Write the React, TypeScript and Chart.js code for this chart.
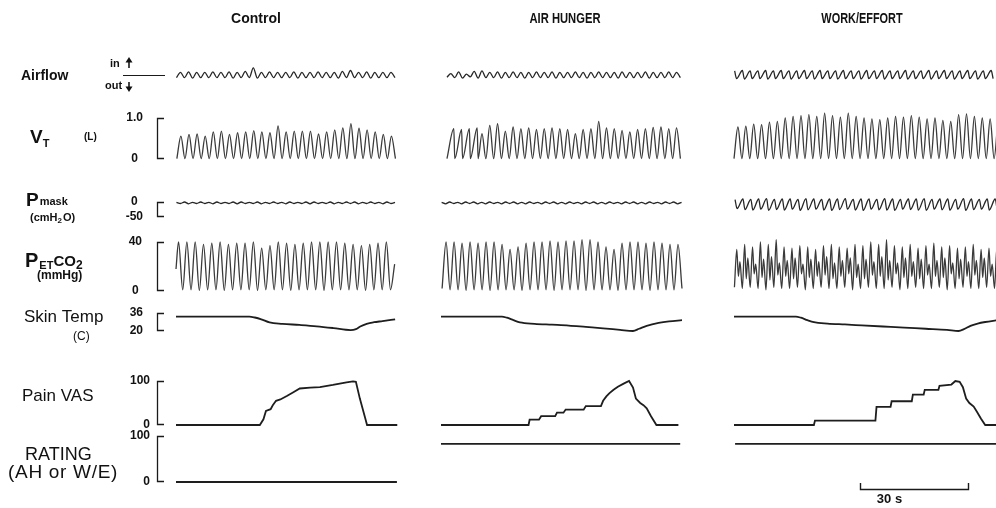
import { useEffect, useRef } from 'react';
import { Chart, registerables } from 'chart.js';

Chart.register(...registerables);

const FONT = '"Liberation Sans", Arial, Helvetica, sans-serif';

// ---------------- text / axis data ----------------
const columnTitles = ['Control', 'AIR HUNGER', 'WORK/EFFORT'];
const columnSpanSec = [61.7, 66.9, 72.8];
const scaleBarStartSec = 35.0; // placed in WORK/EFFORT column
const scaleBarSec = 30;
const scaleBarLabel = '30 s';

const vtTickLabels = ['0', '1.0'];
const pmaskTickLabels = ['-50', '0'];
const petco2TickLabels = ['0', '40'];
const skinTickLabels = ['20', '36'];
const painTickLabels = ['0', '100'];
const ratingTickLabels = ['0', '100'];

// ---------------- breathing traces (per-breath values) ----------------
const vtRest = 0.01;
const ctlPeriod = 2.25;
const ctlCo2Period = 2.31;
const ahPeriod = 2.16;
const ahSlowPeriod = 2.22;
const wrkPeriod = 2.19;
const wrkAirPeriod = 2.16;

// Control
const ctlAirflowIn = [0.3, 0.35, 0.3, 0.3, 0.35, 0.3, 0.35, 0.3, 0.4, 0.8, 0.3, 0.35, 0.3, 0.3, 0.35, 0.3, 0.3, 0.35, 0.3, 0.3, 0.4, 0.5, 0.3, 0.35, 0.3, 0.3, 0.3];
const ctlAirflowOut = [-0.3, -0.3, -0.35, -0.3, -0.3, -0.3, -0.3, -0.35, -0.3, -0.3, -0.35, -0.3, -0.3, -0.3, -0.3, -0.35, -0.3, -0.3, -0.3, -0.3, -0.35, -0.3, -0.3, -0.3, -0.35, -0.3, -0.3];
const ctlVtPeaks = [0.56, 0.6, 0.61, 0.56, 0.66, 0.68, 0.6, 0.64, 0.66, 0.69, 0.66, 0.64, 0.81, 0.66, 0.68, 0.68, 0.68, 0.61, 0.66, 0.71, 0.76, 0.86, 0.75, 0.71, 0.66, 0.6, 0.56];
const ctlPmaskHigh = [-1, 0, -1, 0, -1, 0, -1, 0, 0, -1, 0, -1, 0, -1, 0, -1, 0, 0, -1, 0, -1, 0, 0, -1, 0, -1, 0];
const ctlPmaskLow = [-5, -6, -5, -5, -6, -5, -5, -6, -5, -5, -6, -5, -5, -6, -5, -5, -6, -5, -5, -6, -5, -5, -6, -5, -5, -6, -5];
const ctlPetco2Start = 18;
const ctlPetco2Peaks = [40, 40, 40, 38, 39, 40, 38, 39, 39, 40, 35, 37, 40, 39, 38, 39, 40, 40, 40, 40, 39, 38, 37, 38, 39, 40];
const ctlPetco2Troughs = [1, 1, 0.5, 1, 1, 0.5, 1, 1, 1, 0.5, 1, 1, 1, 0.5, 1, 1, 1, 0.5, 1, 1, 1, 1, 0.5, 1, 1, 1];
const ctlPetco2End = 22;

// Air hunger
const ahAirflowIn = [0.15, 0.35, 0.1, 0.4, 0.45, 0.3, 0.35, 0.3, 0.35, 0.3, 0.3, 0.35, 0.3, 0.35, 0.3, 0.3, 0.35, 0.3, 0.3, 0.35, 0.3, 0.3, 0.35, 0.3, 0.3, 0.35, 0.3, 0.3, 0.35, 0.3];
const ahAirflowOut = [-0.25, -0.3, -0.35, -0.2, -0.35, -0.3, -0.3, -0.35, -0.3, -0.3, -0.35, -0.3, -0.3, -0.3, -0.35, -0.3, -0.3, -0.3, -0.35, -0.3, -0.3, -0.3, -0.35, -0.3, -0.3, -0.3, -0.35, -0.3, -0.3, -0.3];
const ahVtSlanted = 4;
const ahVtPeaks = [0.74, 0.72, 0.74, 0.76, 0.62, 0.82, 0.86, 0.68, 0.78, 0.74, 0.76, 0.72, 0.74, 0.76, 0.74, 0.72, 0.62, 0.72, 0.74, 0.92, 0.76, 0.74, 0.7, 0.66, 0.72, 0.74, 0.77, 0.78, 0.74, 0.76];
const ahPmaskHigh = [-1, 0, -1, 0, 0, -1, 0, -1, 0, 0, -1, 0, -1, 0, 0, -1, 0, -1, 0, 0, -1, 0, -1, 0, 0, -1, 0, -1, 0, 0];
const ahPmaskLow = [-6, -5, -6, -5, -6, -6, -5, -6, -5, -6, -6, -5, -6, -5, -6, -6, -5, -6, -5, -6, -6, -5, -6, -5, -6, -6, -5, -6, -5, -6];
const ahPetco2Peaks = [40, 40, 39, 40, 39, 40, 40, 38, 34, 36, 39, 40, 40, 41, 40, 41, 41, 42, 42, 40, 36, 34, 39, 40, 40, 39, 40, 39, 38, 38];
const ahPetco2Troughs = [2, 1, 1, 0.5, 1, 1, 0.5, 1, 1, 1, 0.5, 1, 1, 1, 0.5, 1, 1, 1, 0.5, 1, 1, 1, 0.5, 1, 1, 1, 0.5, 1, 1, 1];

// Work / effort
const wrkAirflowIn = [0.45, 0.5, 0.45, 0.45, 0.5, 0.45, 0.5, 0.45, 0.45, 0.5, 0.45, 0.5, 0.45, 0.45, 0.5, 0.45, 0.45, 0.5, 0.45, 0.5, 0.45, 0.45, 0.5, 0.45, 0.45, 0.5, 0.45, 0.5, 0.45, 0.45, 0.5, 0.45, 0.45, 0.5];
const wrkAirflowOut = [-0.4, -0.45, -0.4, -0.4, -0.45, -0.4, -0.4, -0.45, -0.4, -0.4, -0.45, -0.4, -0.4, -0.45, -0.4, -0.4, -0.45, -0.4, -0.4, -0.45, -0.4, -0.4, -0.45, -0.4, -0.4, -0.45, -0.4, -0.4, -0.45, -0.4, -0.4, -0.45, -0.4, -0.4];
const wrkVtPeaks = [0.78, 0.8, 0.85, 0.84, 0.9, 0.92, 1.0, 1.04, 1.06, 1.08, 1.04, 1.12, 1.06, 1.02, 1.12, 1.04, 1.0, 0.98, 0.96, 1.0, 1.04, 1.02, 1.06, 1.02, 0.98, 1.0, 0.94, 0.92, 1.08, 1.1, 1.04, 1.0, 0.98, 1.02];
const wrkPmaskHigh = [8, 10, 9, 10, 11, 9, 10, 10, 9, 11, 10, 9, 10, 10, 11, 9, 10, 10, 9, 11, 10, 9, 10, 10, 11, 9, 10, 10, 9, 11, 10, 9, 10, 10];
const wrkPmaskLow = [-22, -25, -27, -24, -28, -25, -27, -24, -28, -26, -24, -27, -28, -25, -24, -27, -28, -24, -26, -27, -28, -24, -25, -27, -28, -24, -26, -27, -24, -28, -25, -24, -27, -26];
const wrkPetco2Low = [3, 2, 3, 2, 1, 3, 2, 2, 3, 1, 2, 3, 2, 2, 3, 1, 2, 3, 2, 2, 3, 1, 2, 3, 2, 2, 3, 1, 2, 3, 2, 2, 3, 2];
const wrkPetco2Peak = [34, 38, 36, 40, 38, 42, 36, 35, 37, 36, 34, 37, 38, 36, 35, 38, 37, 40, 38, 42, 37, 36, 38, 35, 37, 39, 36, 37, 35, 36, 38, 34, 35, 36];
const wrkPetco2Dip = [12, 10, 14, 11, 9, 13, 12, 10, 14, 11, 12, 13, 10, 12, 14, 11, 10, 13, 12, 9, 14, 11, 12, 10, 13, 12, 11, 14, 10, 12, 13, 11, 12, 10];
const wrkPetco2Bump = [24, 27, 22, 26, 28, 23, 25, 27, 22, 26, 24, 28, 23, 25, 27, 22, 26, 24, 28, 25, 23, 27, 24, 26, 22, 25, 27, 23, 26, 24, 25, 27, 22, 24];

// ---------------- slow traces (time in s, value) ----------------
const ctlSkinT = [0, 20.4, 21.9, 23.7, 26.0, 29.6, 34.3, 39.1, 43.8, 48.5, 50.0, 51.2, 53.0, 55.0, 57.4, 60.9];
const ctlSkinV = [32.8, 32.8, 32, 30.4, 27.6, 26.4, 25.4, 24.2, 22.6, 20.8, 21.6, 24, 26.4, 27.8, 28.8, 30.4];
const ahSkinT = [0, 16.9, 18.3, 20.1, 21.9, 26.0, 30.8, 35.5, 40.2, 45.0, 49.7, 53.3, 55.0, 57.1, 60.4, 63.3, 66.9];
const ahSkinV = [32.8, 32.8, 31.8, 29.6, 27.6, 26.4, 25.6, 24.8, 23.6, 22.4, 21, 20, 22, 24.6, 27.2, 28.6, 29.6];
const wrkSkinT = [0, 17.2, 18.6, 20.4, 22.2, 26.0, 30.8, 35.5, 41.4, 47.3, 53.3, 59.2, 62.4, 63.9, 65.7, 67.7, 69.8, 73.1];
const wrkSkinV = [32.8, 32.8, 31.8, 29.6, 27.8, 26.6, 25.8, 25, 24, 23, 22, 21, 20, 21.6, 24.6, 26.6, 28, 29.6];

const ctlPainT = [0, 23.3, 24.3, 25.0, 26.3, 26.9, 27.8, 29.0, 30.8, 32.5, 34.4, 37.3, 40.0, 43.6, 47.4, 49.2, 50.0, 51.1, 52.5, 53.1, 61.5];
const ctlPainV = [0, 0, 13, 32, 36, 45, 55, 58, 66, 74, 83, 85, 86, 91, 97, 99, 98, 60, 18, 0, 0];
const ahPainT = [0, 24.3, 24.6, 27.2, 27.8, 31.7, 32.2, 34.0, 34.6, 39.6, 40.2, 44.4, 45.0, 45.9, 46.7, 47.9, 49.1, 50.7, 52.2, 53.3, 54.1, 55.3, 56.2, 57.1, 58.3, 59.8, 65.9];
const ahPainV = [0, 0, 12, 12, 20, 20, 28, 28, 35, 35, 43, 43, 55, 65, 72, 80, 87, 94, 100, 85, 60, 50, 45, 38, 20, 0, 0];
const wrkPainT = [0, 22.2, 22.5, 39.3, 39.6, 43.5, 43.8, 49.4, 49.7, 52.7, 53.0, 56.8, 57.1, 60.4, 61.5, 62.7, 63.6, 64.5, 65.4, 66.6, 67.5, 68.6, 69.8, 73.4];
const wrkPainV = [0, 0, 10, 10, 41, 41, 54, 54, 69, 69, 80, 80, 89, 92, 100, 98, 86, 60, 50, 42, 30, 15, 0, 0];

const ctlRatingT = [0, 61.4];
const ctlRatingV = [0, 0];
const ahRatingT = [0, 66.4];
const ahRatingV = [83, 83];
const wrkRatingT = [0.3, 73.4];
const wrkRatingV = [83, 83];

// ---------------- helpers to build point tables ----------------
type Pt = { x: number; y: number };
function wave(start: number, period: number, count: number, phases: number[], levels: (number | number[])[]): Pt[] {
  const pts: Pt[] = [];
  for (let i = 0; i < count; i++) {
    phases.forEach((ph, j) => {
      const lv = levels[j];
      pts.push({ x: start + (i + ph) * period, y: Array.isArray(lv) ? lv[i] : lv });
    });
  }
  return pts;
}
function zip(t: number[], v: number[]): Pt[] {
  return t.map((x, i) => ({ x, y: v[i] }));
}

// ---------------- layout (pixel sizes of stacked axes) ----------------
type Row = { id: string; px: number; min?: number; max?: number; ticks?: string[]; align?: 'near' | 'center'; pad?: number };
const rows: Row[] = [
  { id: 'yAir', px: 18, min: -1, max: 1 },
  { id: 'yG1', px: 34 },
  { id: 'yVt', px: 41, min: 0, max: 1, ticks: vtTickLabels, align: 'center', pad: 33 },
  { id: 'yG2', px: 43 },
  { id: 'yPm', px: 15, min: -50, max: 0, ticks: pmaskTickLabels, align: 'center', pad: 33 },
  { id: 'yG3', px: 25 },
  { id: 'yCo2', px: 49, min: 0, max: 40, ticks: petco2TickLabels, align: 'center', pad: 34 },
  { id: 'yG4', px: 22 },
  { id: 'ySkin', px: 18, min: 20, max: 36, ticks: skinTickLabels, align: 'center', pad: 33 },
  { id: 'yG5', px: 50 },
  { id: 'yPain', px: 44, min: 0, max: 100, ticks: painTickLabels, align: 'near', pad: 26 },
  { id: 'yG6', px: 11 },
  { id: 'yRate', px: 46, min: 0, max: 100, ticks: ratingTickLabels, align: 'near', pad: 26 },
];
const cols = [
  { id: 'x1', px: 222, max: columnSpanSec[0] },
  { id: 'xG1', px: 43, max: 1 },
  { id: 'x2', px: 241, max: columnSpanSec[1] },
  { id: 'xG2', px: 52, max: 1 },
  { id: 'x3', px: 262, max: columnSpanSec[2] },
];
const LEFT_W = 176;

function buildScales() {
  const scales: any = {};
  rows.forEach((r, i) => {
    const hasTicks = !!r.ticks;
    scales[r.id] = {
      type: 'linear',
      axis: 'y',
      position: 'left',
      stack: 'rows',
      stackWeight: r.px,
      weight: rows.length - i,
      min: r.min ?? 0,
      max: r.max ?? 1,
      grid: { display: false, drawTicks: false },
      border: { display: false },
      ticks: {
        display: hasTicks,
        autoSkip: false,
        padding: r.pad ?? 26,
        crossAlign: r.align ?? 'near',
        color: '#111',
        font: { family: FONT, size: 12, weight: 'bold' },
        callback: (_v: any, idx: number) => (r.ticks ? r.ticks[idx] : ''),
      },
      afterBuildTicks: (s: any) => {
        s.ticks = [{ value: r.min ?? 0 }, { value: r.max ?? 1 }];
      },
      afterFit: (s: any) => {
        s.width = LEFT_W;
        s.paddingTop = 0;
        s.paddingBottom = 0;
      },
    };
  });
  cols.forEach((c, i) => {
    scales[c.id] = {
      type: 'linear',
      axis: 'x',
      position: 'top',
      stack: 'cols',
      stackWeight: c.px,
      weight: cols.length - i,
      min: 0,
      max: c.max,
      grid: { display: false, drawTicks: false },
      border: { display: false },
      ticks: { display: false },
      afterFit: (s: any) => {
        s.height = 0;
        s.paddingLeft = 0;
        s.paddingRight = 0;
      },
    };
  });
  return scales;
}

function ds(data: Pt[], x: string, y: string, kind: 'fast' | 'mid' | 'slow' | 'step') {
  const style: any = {
    fast: { borderColor: '#3a3a3a', borderWidth: 1.3, cubicInterpolationMode: 'monotone' },
    mid: { borderColor: '#262626', borderWidth: 1.3, cubicInterpolationMode: 'monotone' },
    slow: { borderColor: '#1e1e1e', borderWidth: 1.8, cubicInterpolationMode: 'monotone' },
    step: { borderColor: '#1e1e1e', borderWidth: 1.8, tension: 0 },
  }[kind];
  return { type: 'line', data, xAxisID: x, yAxisID: y, pointRadius: 0, fill: false, clip: false, ...style };
}

function buildDatasets() {
  const ctlAir = [...wave(0.12, ctlPeriod, 27, [0, 0.5], [ctlAirflowOut, ctlAirflowIn]), { x: 0.12 + 27 * ctlPeriod, y: -0.3 }];
  const ctlVt = [...wave(0.24, ctlPeriod, 27, [0, 0.5], [vtRest, ctlVtPeaks]), { x: 0.24 + 27 * ctlPeriod, y: vtRest }];
  const ctlPm = [...wave(0.12, ctlPeriod, 27, [0, 0.5], [ctlPmaskHigh, ctlPmaskLow]), { x: 0.12 + 27 * ctlPeriod, y: -1 }];
  const ctlCo2 = [{ x: 0, y: ctlPetco2Start }, ...wave(0.71, ctlCo2Period, 26, [0, 0.5], [ctlPetco2Peaks, ctlPetco2Troughs]), { x: 0.71 + 26 * ctlCo2Period, y: ctlPetco2End }];

  const ahAir = [...wave(1.66, ahPeriod, 30, [0, 0.5], [ahAirflowOut, ahAirflowIn]), { x: 1.66 + 30 * ahPeriod, y: -0.3 }];
  const ahVt = [
    ...wave(1.66, ahPeriod, ahVtSlanted, [0, 0.88], [vtRest, ahVtPeaks.slice(0, ahVtSlanted)]),
    ...wave(1.66 + ahVtSlanted * ahPeriod, ahPeriod, 30 - ahVtSlanted, [0, 0.5], [vtRest, ahVtPeaks.slice(ahVtSlanted)]),
    { x: 1.66 + 30 * ahPeriod, y: vtRest },
  ];
  const ahPm = [...wave(0.18, ahSlowPeriod, 30, [0, 0.5], [ahPmaskHigh, ahPmaskLow]), { x: 0.18 + 30 * ahSlowPeriod, y: -1 }];
  const ahCo2 = [...wave(0.3, ahSlowPeriod, 30, [0, 0.5], [ahPetco2Troughs, ahPetco2Peaks]), { x: 0.3 + 30 * ahSlowPeriod, y: 2 }];

  const wrkAir = wave(0.18, wrkAirPeriod, 34, [0, 0.25], [wrkAirflowIn, wrkAirflowOut]);
  const wrkVt = wave(0, wrkPeriod, 34, [0, 0.5], [vtRest, wrkVtPeaks]);
  const wrkPm = wave(0.3, wrkPeriod, 34, [0, 0.25], [wrkPmaskHigh, wrkPmaskLow]);
  const wrkCo2 = wave(0.12, wrkPeriod, 34, [0, 0.3, 0.5, 0.7], [wrkPetco2Low, wrkPetco2Peak, wrkPetco2Dip, wrkPetco2Bump]);

  return [
    ds(ctlAir, 'x1', 'yAir', 'mid'),
    ds(ctlVt, 'x1', 'yVt', 'fast'),
    ds(ctlPm, 'x1', 'yPm', 'mid'),
    ds(ctlCo2, 'x1', 'yCo2', 'fast'),
    ds(zip(ctlSkinT, ctlSkinV), 'x1', 'ySkin', 'slow'),
    ds(zip(ctlPainT, ctlPainV), 'x1', 'yPain', 'step'),
    ds(zip(ctlRatingT, ctlRatingV), 'x1', 'yRate', 'step'),

    ds(ahAir, 'x2', 'yAir', 'mid'),
    ds(ahVt, 'x2', 'yVt', 'fast'),
    ds(ahPm, 'x2', 'yPm', 'mid'),
    ds(ahCo2, 'x2', 'yCo2', 'fast'),
    ds(zip(ahSkinT, ahSkinV), 'x2', 'ySkin', 'slow'),
    ds(zip(ahPainT, ahPainV), 'x2', 'yPain', 'step'),
    ds(zip(ahRatingT, ahRatingV), 'x2', 'yRate', 'step'),

    ds(wrkAir, 'x3', 'yAir', 'mid'),
    ds(wrkVt, 'x3', 'yVt', 'fast'),
    ds(wrkPm, 'x3', 'yPm', 'mid'),
    ds(wrkCo2, 'x3', 'yCo2', 'fast'),
    ds(zip(wrkSkinT, wrkSkinV), 'x3', 'ySkin', 'slow'),
    ds(zip(wrkPainT, wrkPainV), 'x3', 'yPain', 'step'),
    ds(zip(wrkRatingT, wrkRatingV), 'x3', 'yRate', 'step'),
  ];
}

// ---------------- annotation plugin ----------------
function put(ctx: CanvasRenderingContext2D, s: string, x: number, y: number, font: string, align: CanvasTextAlign = 'left') {
  ctx.font = font;
  ctx.textAlign = align;
  ctx.fillText(s, x, y);
  return x + ctx.measureText(s).width;
}
function putNarrow(ctx: CanvasRenderingContext2D, s: string, cx: number, y: number, font: string, sx: number) {
  ctx.save();
  ctx.translate(cx, y);
  ctx.scale(sx, 1);
  ctx.font = font;
  ctx.textAlign = 'center';
  ctx.fillText(s, 0, 0);
  ctx.restore();
}

const annotations = {
  id: 'physioAnnotations',
  afterDraw(chart: any) {
    const ctx: CanvasRenderingContext2D = chart.ctx;
    ctx.save();
    ctx.fillStyle = '#111';
    ctx.strokeStyle = '#1a1a1a';
    ctx.textBaseline = 'alphabetic';

    // column titles
    put(ctx, columnTitles[0], 256, 23, `bold 14px ${FONT}`, 'center');
    putNarrow(ctx, columnTitles[1], 565, 23, `bold 14px ${FONT}`, 0.8);
    putNarrow(ctx, columnTitles[2], 862, 23, `bold 14px ${FONT}`, 0.78);

    // brackets
    ctx.lineWidth = 1.3;
    rows.forEach((r) => {
      if (!r.ticks) return;
      const s = chart.scales[r.id];
      const top = Math.round(s.getPixelForValue(r.max)) + 0.5;
      const bot = Math.round(s.getPixelForValue(r.min)) - 0.5;
      ctx.beginPath();
      ctx.moveTo(164, top);
      ctx.lineTo(157.5, top);
      ctx.lineTo(157.5, bot);
      ctx.lineTo(164, bot);
      ctx.stroke();
    });

    // Airflow row
    put(ctx, 'Airflow', 21, 80, `bold 14px ${FONT}`);
    put(ctx, 'in', 110, 67, `bold 11px ${FONT}`);
    put(ctx, 'out', 105, 89, `bold 11px ${FONT}`);
    ctx.beginPath();
    ctx.moveTo(123, 75.5);
    ctx.lineTo(165, 75.5);
    ctx.lineWidth = 1.2;
    ctx.stroke();
    const ax = 129;
    ctx.lineWidth = 1.6;
    ctx.beginPath();
    ctx.moveTo(ax, 61);
    ctx.lineTo(ax, 68);
    ctx.moveTo(ax, 82);
    ctx.lineTo(ax, 88);
    ctx.stroke();
    ctx.beginPath();
    ctx.moveTo(ax, 57);
    ctx.lineTo(ax - 3.5, 62.5);
    ctx.lineTo(ax + 3.5, 62.5);
    ctx.closePath();
    ctx.fill();
    ctx.beginPath();
    ctx.moveTo(ax, 92);
    ctx.lineTo(ax - 3.5, 86.5);
    ctx.lineTo(ax + 3.5, 86.5);
    ctx.closePath();
    ctx.fill();

    // V_T (L)
    let x = put(ctx, 'V', 30, 143, `bold 19px ${FONT}`);
    put(ctx, 'T', x, 147, `bold 11px ${FONT}`);
    put(ctx, '(L)', 84, 140, `bold 10px ${FONT}`);

    // P mask (cmH2O)
    x = put(ctx, 'P', 26, 206, `bold 19px ${FONT}`);
    put(ctx, 'mask', x + 1, 205, `bold 11px ${FONT}`);
    x = put(ctx, '(cmH', 30, 221, `bold 11px ${FONT}`);
    x = put(ctx, '2', x, 223, `bold 8px ${FONT}`);
    put(ctx, 'O)', x + 1, 221, `bold 11px ${FONT}`);

    // P ETCO2 (mmHg)
    x = put(ctx, 'P', 25, 267, `bold 20px ${FONT}`);
    x = put(ctx, 'ET', x + 1, 269, `bold 11px ${FONT}`);
    x = put(ctx, 'CO', x, 266, `bold 15px ${FONT}`);
    put(ctx, '2', x, 269, `bold 12px ${FONT}`);
    put(ctx, '(mmHg)', 37, 279, `bold 12px ${FONT}`);

    // Skin Temp
    put(ctx, 'Skin Temp', 24, 322, `17px ${FONT}`);
    put(ctx, '(C)', 73, 340, `12px ${FONT}`);

    // Pain VAS
    put(ctx, 'Pain VAS', 22, 401, `17px ${FONT}`);

    // RATING
    put(ctx, 'RATING', 25, 460, `18px ${FONT}`);
    (ctx as any).letterSpacing = '0.7px';
    put(ctx, '(AH or W/E)', 8, 478, `19px ${FONT}`);
    (ctx as any).letterSpacing = '0px';

    // 30 s scale bar
    const xs = chart.scales['x3'];
    const bx0 = Math.round(xs.getPixelForValue(scaleBarStartSec)) + 0.5;
    const bx1 = Math.round(xs.getPixelForValue(scaleBarStartSec + scaleBarSec)) + 0.5;
    ctx.lineWidth = 1.4;
    ctx.beginPath();
    ctx.moveTo(bx0, 483);
    ctx.lineTo(bx0, 489.5);
    ctx.lineTo(bx1, 489.5);
    ctx.lineTo(bx1, 483);
    ctx.stroke();
    put(ctx, scaleBarLabel, bx0 + 29, 503, `bold 13px ${FONT}`, 'center');

    ctx.restore();
  },
};

export default function App() {
  const ref = useRef<HTMLCanvasElement | null>(null);
  useEffect(() => {
    if (!ref.current) return;
    const chart = new Chart(ref.current, {
      type: 'line',
      data: { datasets: buildDatasets() as any },
      options: {
        animation: false,
        responsive: false,
        events: [],
        layout: { padding: { top: 66, bottom: 26, left: 0, right: 0 } },
        plugins: { legend: { display: false }, tooltip: { enabled: false } },
        scales: buildScales(),
      } as any,
      plugins: [annotations],
    });
    return () => chart.destroy();
  }, []);
  return (
    <div style={{ position: 'fixed', left: 0, top: 0, width: 996, height: 508, background: '#fff' }}>
      <canvas ref={ref} width={996} height={508} style={{ display: 'block' }} />
    </div>
  );
}
